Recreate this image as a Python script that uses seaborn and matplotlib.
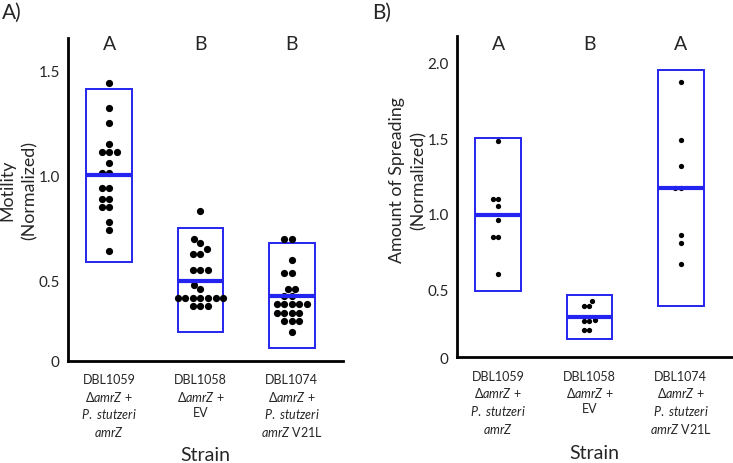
import numpy as np
import pandas as pd
import matplotlib
matplotlib.use('Agg')
import matplotlib.pyplot as plt
import seaborn as sns

# strains and their tick labels
strains = ['DBL1059', 'DBL1058', 'DBL1074']
strain_labels = [
    'DBL1059\nΔ$\\it{amrZ}$ +\n$\\it{P.}$ $\\it{stutzeri}$\n$\\it{amrZ}$',
    'DBL1058\nΔ$\\it{amrZ}$ +\nEV',
    'DBL1074\nΔ$\\it{amrZ}$ +\n$\\it{P.}$ $\\it{stutzeri}$\n$\\it{amrZ}$ V21L',
]

# panel A: motility (normalized)
motility_1059 = [1.44, 1.32, 1.25, 1.15, 1.11, 1.11, 1.11, 1.06, 1.01, 1.01,
                 0.94, 0.94, 0.89, 0.89, 0.85, 0.85, 0.78, 0.74, 0.64]
motility_1058 = [0.83, 0.70, 0.68, 0.65, 0.63, 0.63, 0.55, 0.55, 0.55, 0.48,
                 0.46, 0.42, 0.42, 0.42, 0.42, 0.42, 0.42, 0.42, 0.38, 0.38, 0.38]
motility_1074 = [0.70, 0.70, 0.60, 0.54, 0.54, 0.46, 0.46, 0.43, 0.43,
                 0.39, 0.39, 0.39, 0.39, 0.39, 0.35, 0.35, 0.35, 0.35,
                 0.31, 0.31, 0.31, 0.26]
motility_low = [0.59, 0.26, 0.18]
motility_high = [1.41, 0.75, 0.68]
motility_mid = [1.00, 0.50, 0.43]
motility_groups = ['A', 'B', 'B']

# panel B: amount of spreading (normalized)
spreading_1059 = [1.48, 1.10, 1.10, 1.05, 0.96, 0.85, 0.85, 0.60]
spreading_1058 = [0.42, 0.39, 0.39, 0.30, 0.29, 0.29, 0.23, 0.23]
spreading_1074 = [1.87, 1.49, 1.32, 1.17, 1.17, 0.86, 0.81, 0.67]
spreading_low = [0.49, 0.17, 0.39]
spreading_high = [1.50, 0.46, 1.95]
spreading_mid = [0.99, 0.32, 1.17]
spreading_groups = ['A', 'B', 'A']

BLUE = '#2424f0'


def to_frame(groups):
    rows = []
    for s, vals in zip(strains, groups):
        rows += [(s, v) for v in vals]
    return pd.DataFrame(rows, columns=['Strain', 'Value'])


def draw_panel(ax, df, low, high, mid, letters, ylim, yticks, ylabel, letter_y,
               dot_size, ylab_pos, xlab_y):
    x = np.arange(len(strains))
    low = np.array(low)
    high = np.array(high)
    ax.bar(x, high - low, bottom=low, width=0.5, fill=False,
           edgecolor=BLUE, linewidth=1.4, zorder=1)
    sns.swarmplot(data=df, x='Strain', y='Value', order=strains, color='black',
                  size=dot_size, ax=ax, zorder=3)
    ax.hlines(mid, x - 0.25, x + 0.25, color=BLUE, linewidth=3, zorder=4)
    for i, t in enumerate(letters):
        ax.text(i, letter_y, t, ha='center', va='center', fontsize=14)
    ax.set_xlim(-0.45, 2.56)
    ax.set_ylim(*ylim)
    ax.set_yticks([ylim[0]] + yticks)
    ax.set_yticklabels(['0'] + ['%.1f' % t for t in yticks], fontsize=11)
    ax.set_xticks(x)
    ax.set_xticklabels(strain_labels, fontsize=9, linespacing=1.3)
    ax.tick_params(length=0, pad=6)
    ax.tick_params(axis='x', pad=9)
    ax.set_ylabel(ylabel, fontsize=12.8, linespacing=1.45)
    ax.yaxis.set_label_coords(*ylab_pos)
    ax.set_xlabel('Strain', fontsize=14)
    ax.xaxis.set_label_coords(0.5, xlab_y)
    sns.despine(ax=ax)
    for sp in ['left', 'bottom']:
        ax.spines[sp].set_linewidth(2)
        ax.spines[sp].set_color('black')


def main():
    sns.set_style('white')
    plt.rcParams['font.family'] = ['Lato', 'DejaVu Sans']
    plt.rcParams['mathtext.fontset'] = 'custom'
    plt.rcParams['mathtext.rm'] = 'Lato'
    plt.rcParams['mathtext.it'] = 'Lato:italic'

    fig = plt.figure(figsize=(7.33, 4.64), dpi=100)
    ax_a = fig.add_axes([0.0928, 0.2205, 0.375, 0.6955])
    ax_b = fig.add_axes([0.6235, 0.228, 0.375, 0.693])

    draw_panel(ax_a, to_frame([motility_1059, motility_1058, motility_1074]),
               motility_low, motility_high, motility_mid, motility_groups,
               (0.122, 1.652), [0.5, 1.0, 1.5], 'Motility\n(Normalized)', 1.625, 5.2,
               (-0.112, 0.532), -0.264)
    draw_panel(ax_b, to_frame([spreading_1059, spreading_1058, spreading_1074]),
               spreading_low, spreading_high, spreading_mid, spreading_groups,
               (0.051, 2.18), [0.5, 1.0, 1.5, 2.0], 'Amount of Spreading\n(Normalized)', 2.126, 3.8,
               (-0.11, 0.554), -0.27)

    fig.text(0.003, 0.972, 'A)', fontsize=15, va='center', ha='left')
    fig.text(0.508, 0.972, 'B)', fontsize=15, va='center', ha='left')

    fig.savefig('out.png', dpi=100)
    plt.close(fig)


if __name__ == '__main__':
    main()
